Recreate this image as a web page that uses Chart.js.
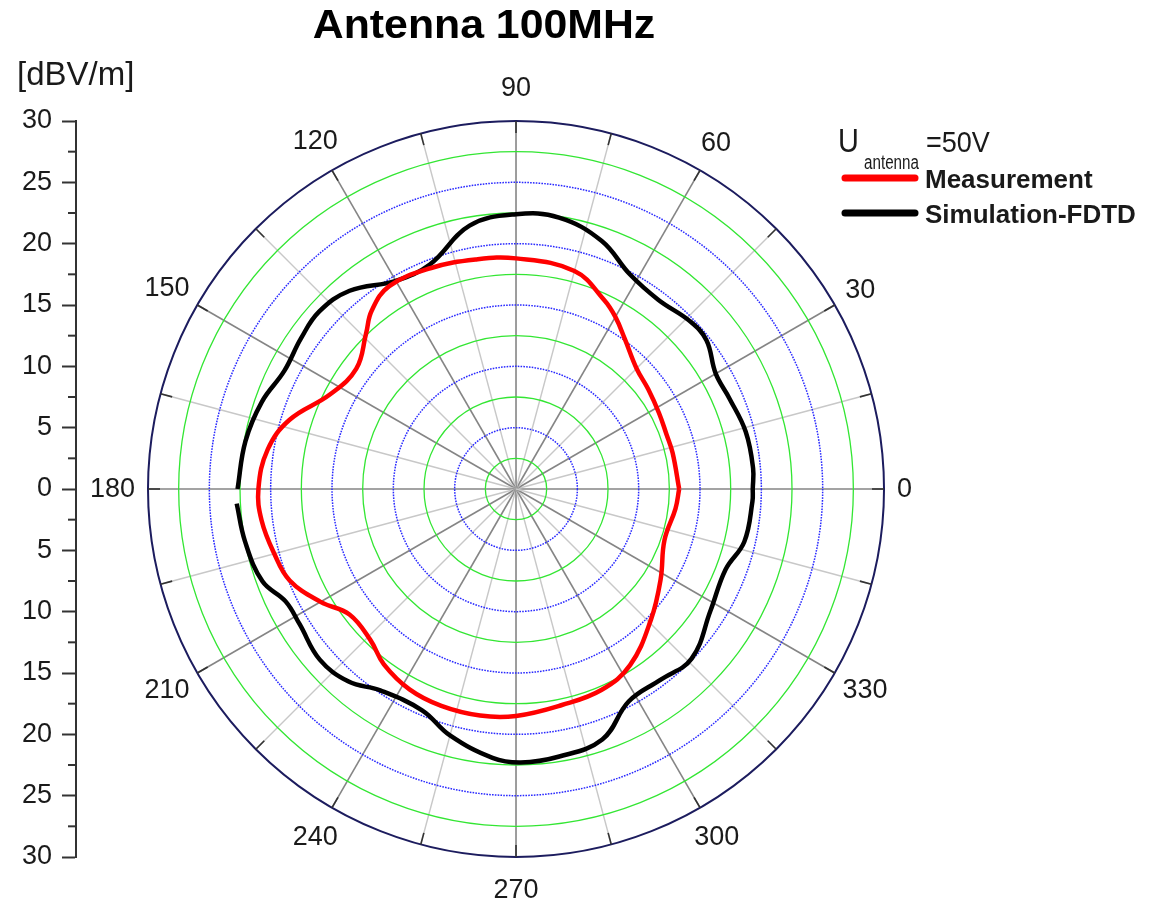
<!DOCTYPE html>
<html>
<head>
<meta charset="utf-8">
<title>Antenna 100MHz</title>
<script src="https://cdn.jsdelivr.net/npm/chart.js@4.4.1/dist/chart.umd.min.js"></script>
<style>
  html, body { margin: 0; padding: 0; background: #fff; }
  #wrap { width: 1153px; height: 902px; }
</style>
</head>
<body>
<div id="wrap"><canvas id="polar" width="1153" height="902"></canvas></div>
<script>
var FONT = '"Liberation Sans", Arial, sans-serif';

var chartTitle = 'Antenna 100MHz';
var unitLabel = '[dBV/m]';
var seriesNames = ['Measurement', 'Simulation-FDTD'];
var seriesColors = ['#ff0000', '#000000'];

// measured field strength, angle in degrees vs level in dBV/m
var measAngles = [0, 13, 20, 28, 37, 45, 54, 60, 65, 75, 90, 100, 111, 122, 129, 134, 143, 153, 163, 171,
                  180, 187, 195, 202, 210, 217, 226, 233, 242, 251, 261, 270, 282, 293, 303, 316, 328, 341, 353, 360];
var measValues = [13.3, 13.1, 13.05, 13.2, 13.5, 13.9, 15.1, 16.2, 17.0, 18.4, 18.8, 19.0, 19.3, 19.5, 18.7, 17.6, 16.3, 17.0, 19.3, 20.5,
                  21.0, 20.9, 20.4, 19.9, 18.4, 17.0, 17.1, 17.9, 18.5, 18.7, 18.7, 18.5, 18.0, 17.8, 17.1, 15.3, 13.9, 12.8, 13.1, 13.3];

// FDTD result, starts just past 180 deg and runs round to 180 (open at the left)
var simAngles = [183, 191, 200, 206, 212, 221, 229, 236, 247, 255, 265, 271, 279, 289, 298, 307, 316, 328, 339, 347, 357,
                 0, 5, 14, 23, 30, 38, 44, 53, 62, 71, 81, 90, 100, 111, 120, 130, 138, 145, 153, 161, 170, 180];
var simValues = [22.8, 22.5, 22.0, 20.9, 20.8, 21.2, 20.8, 19.8, 19.6, 20.8, 22.0, 22.3, 22.1, 21.6, 19.6, 19.5, 19.9, 18.7, 18.3, 19.1, 19.3,
                 19.3, 19.4, 19.3, 18.9, 18.8, 19.7, 19.7, 19.3, 19.8, 21.4, 22.4, 22.4, 21.8, 19.6, 19.6, 21.1, 21.6, 21.4, 21.2, 21.9, 22.4, 22.7];

var radialMax = 30;
var ringStep = 2.5;
var spokeStep = 15;
var angleLabels = [0, 30, 60, 90, 120, 150, 180, 210, 240, 270, 300, 330];
var levelStep = 5;
var levelMinorStep = 2.5;

function toPoints(angles, values) {
  return angles.map(function (a, i) {
    var t = a * Math.PI / 180;
    return { x: values[i] * Math.cos(t), y: values[i] * Math.sin(t) };
  });
}

function stretchText(ctx, txt, x, y, sx) {
  ctx.save();
  ctx.translate(x, y);
  ctx.scale(sx, 1);
  ctx.fillText(txt, 0, 0);
  ctx.restore();
}

var polarGrid = {
  id: 'polarGrid',
  beforeDatasetsDraw: function (chart) {
    var ctx = chart.ctx;
    var xs = chart.scales.x, ys = chart.scales.y;
    var cx = xs.getPixelForValue(0), cy = ys.getPixelForValue(0);
    var R = xs.getPixelForValue(radialMax) - cx;
    ctx.save();
    // spokes
    for (var a = 0; a < 360; a += spokeStep) {
      var t = a * Math.PI / 180;
      var major = a % 30 === 0;
      ctx.beginPath();
      ctx.moveTo(cx, cy);
      ctx.lineTo(cx + R * Math.cos(t), cy - R * Math.sin(t));
      ctx.strokeStyle = major ? '#858585' : '#c8c8c8';
      ctx.lineWidth = major ? 1.6 : 1.4;
      ctx.stroke();
    }
    // rings: green solid / blue dotted alternating
    var n = 0;
    for (var v = ringStep; v < radialMax - 0.01; v += ringStep) {
      n++;
      var r = xs.getPixelForValue(v) - cx;
      ctx.beginPath();
      ctx.arc(cx, cy, r, 0, Math.PI * 2);
      if (n % 2 === 1) {
        ctx.setLineDash([]);
        ctx.strokeStyle = '#33e633';
        ctx.lineWidth = 1.3;
      } else {
        ctx.setLineDash([1.6, 1.2]);
        ctx.strokeStyle = '#2a2aff';
        ctx.lineWidth = 1.5;
      }
      ctx.stroke();
    }
    ctx.setLineDash([]);
    ctx.restore();
  },
  afterDraw: function (chart) {
    var ctx = chart.ctx;
    var xs = chart.scales.x, ys = chart.scales.y;
    var cx = xs.getPixelForValue(0), cy = ys.getPixelForValue(0);
    var R = xs.getPixelForValue(radialMax) - cx;
    ctx.save();
    // outer frame and its ticks
    ctx.beginPath();
    ctx.arc(cx, cy, R, 0, Math.PI * 2);
    ctx.strokeStyle = '#1c1c5e';
    ctx.lineWidth = 2;
    ctx.stroke();
    for (var a = 0; a < 360; a += spokeStep) {
      var t = a * Math.PI / 180;
      ctx.beginPath();
      ctx.moveTo(cx + (R - 12) * Math.cos(t), cy - (R - 12) * Math.sin(t));
      ctx.lineTo(cx + R * Math.cos(t), cy - R * Math.sin(t));
      ctx.strokeStyle = '#333';
      ctx.lineWidth = 1.6;
      ctx.stroke();
    }
    // angle labels, pushed out by the half-extent of the text box
    ctx.fillStyle = '#1a1a1a';
    ctx.font = '27px ' + FONT;
    ctx.textAlign = 'center';
    ctx.textBaseline = 'alphabetic';
    angleLabels.forEach(function (a) {
      var t = a * Math.PI / 180;
      var txt = String(a);
      var hw = ctx.measureText(txt).width / 2, hh = 20;
      var ext = Math.sqrt(Math.pow(Math.cos(t) * hw, 2) + Math.pow(Math.sin(t) * hh, 2));
      var d = R + 13 + ext;
      ctx.fillText(txt, cx + d * Math.cos(t), cy - d * Math.sin(t) + 8);
    });
    // minor ticks on the level axis
    var ax = chart.chartArea.left;
    ctx.strokeStyle = '#333';
    ctx.lineWidth = 2;
    for (var v = -radialMax; v <= radialMax; v += levelMinorStep) {
      if (Math.abs(v % levelStep) < 0.01) continue;
      var py = ys.getPixelForValue(v);
      ctx.beginPath();
      ctx.moveTo(ax - 8, py);
      ctx.lineTo(ax, py);
      ctx.stroke();
    }
    // title and unit
    ctx.fillStyle = '#000';
    ctx.font = 'bold 40px ' + FONT;
    ctx.textAlign = 'center';
    stretchText(ctx, chartTitle, 484, 38, 1.07);
    ctx.fillStyle = '#1a1a1a';
    ctx.font = '33px ' + FONT;
    ctx.textAlign = 'left';
    ctx.fillText(unitLabel, 17, 85);
    // legend
    ctx.font = '34px ' + FONT;
    stretchText(ctx, 'U', 838, 152, 0.85);
    ctx.font = '20px ' + FONT;
    stretchText(ctx, 'antenna', 864, 169, 0.76);
    ctx.font = '30px ' + FONT;
    stretchText(ctx, '=50V', 926, 152, 0.9);
    var rows = [178, 213];
    seriesNames.forEach(function (name, i) {
      ctx.beginPath();
      ctx.moveTo(845, rows[i]);
      ctx.lineTo(915, rows[i]);
      ctx.strokeStyle = seriesColors[i];
      ctx.lineWidth = 7;
      ctx.lineCap = 'round';
      ctx.stroke();
      ctx.fillStyle = '#1a1a1a';
      ctx.font = 'bold 26px ' + FONT;
      ctx.fillText(name, 925, rows[i] + 10);
    });
    ctx.restore();
  }
};

new Chart(document.getElementById('polar'), {
  type: 'scatter',
  data: {
    datasets: [
      {
        label: seriesNames[0],
        data: toPoints(measAngles, measValues),
        showLine: true,
        borderColor: seriesColors[0],
        borderWidth: 4.5,
        pointRadius: 0,
        tension: 0.4
      },
      {
        label: seriesNames[1],
        data: toPoints(simAngles, simValues),
        showLine: true,
        borderColor: seriesColors[1],
        borderWidth: 4.5,
        pointRadius: 0,
        tension: 0.4
      }
    ]
  },
  options: {
    responsive: false,
    animation: false,
    layout: { padding: { top: 121, bottom: 45, left: 0, right: 268 } },
    plugins: {
      legend: { display: false },
      title: { display: false },
      tooltip: { enabled: false }
    },
    scales: {
      x: { type: 'linear', min: -35.87, max: 30.08, display: false },
      y: {
        type: 'linear',
        min: -radialMax,
        max: radialMax,
        position: 'left',
        afterFit: function (s) { s.width = 76; },
        ticks: {
          stepSize: levelStep,
          padding: 10,
          color: '#1a1a1a',
          font: { family: FONT, size: 27 },
          callback: function (v) { return Math.abs(v); }
        },
        grid: { drawOnChartArea: false, drawTicks: true, tickLength: 14, tickColor: '#333', tickWidth: 2 },
        border: { display: true, color: '#333', width: 2 }
      }
    }
  },
  plugins: [polarGrid]
});
</script>
</body>
</html>
